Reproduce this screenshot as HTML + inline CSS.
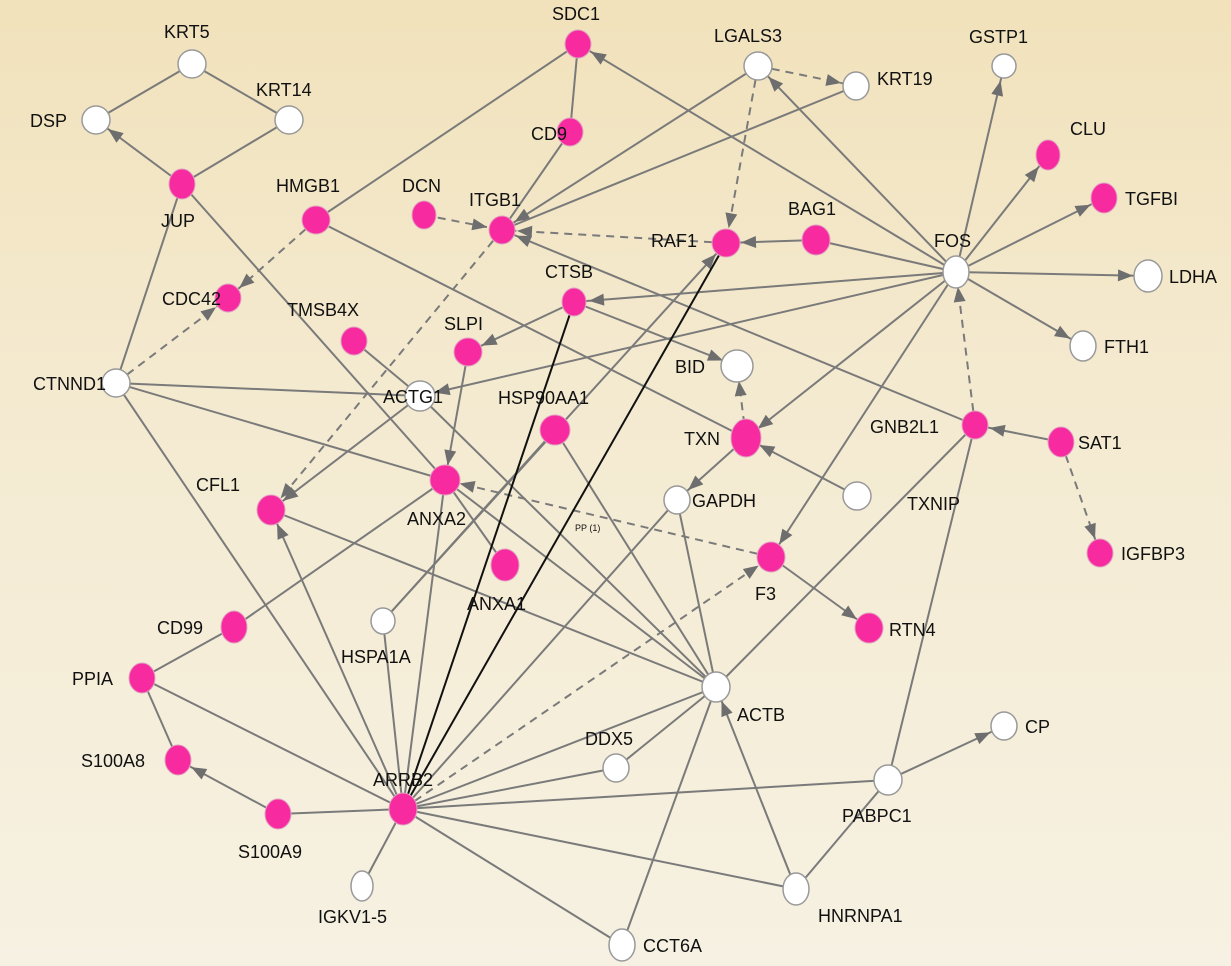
<!DOCTYPE html>
<html><head><meta charset="utf-8"><style>
html,body{margin:0;padding:0}
body{width:1231px;height:966px;overflow:hidden;background:linear-gradient(#f1e2bb,#f4ead0 40%,#f6f1e2)}
svg{display:block}
text{font-family:"Liberation Sans",sans-serif;font-size:18px;fill:#111}
</style></head><body>
<svg width="1231" height="966" viewBox="0 0 1231 966">
<defs>
<marker id="a" markerUnits="userSpaceOnUse" markerWidth="14" markerHeight="12" refX="30" refY="6" orient="auto" overflow="visible"><path d="M0,0 L15,6 L0,12 z" fill="#6e6e6e"/></marker>
</defs>
<g stroke="#7a7a7a" stroke-width="2" fill="none">
<line x1="192" y1="64" x2="96" y2="120"/>
<line x1="192" y1="64" x2="289" y2="120"/>
<line x1="289" y1="120" x2="182" y2="184"/>
<line x1="182" y1="184" x2="96" y2="120" marker-end="url(#a)"/>
<line x1="182" y1="184" x2="116" y2="383"/>
<line x1="182" y1="184" x2="445" y2="480"/>
<line x1="578" y1="44" x2="570" y2="132"/>
<line x1="578" y1="44" x2="316" y2="220"/>
<line x1="570" y1="132" x2="502" y2="230"/>
<line x1="316" y1="220" x2="228" y2="298" stroke-dasharray="8,6" marker-end="url(#a)"/>
<line x1="316" y1="220" x2="746" y2="438"/>
<line x1="758" y1="66" x2="856" y2="86" stroke-dasharray="8,6" marker-end="url(#a)"/>
<line x1="758" y1="66" x2="726" y2="243" stroke-dasharray="8,6" marker-end="url(#a)"/>
<line x1="758" y1="66" x2="502" y2="230" marker-end="url(#a)"/>
<line x1="856" y1="86" x2="502" y2="230"/>
<line x1="956" y1="272" x2="578" y2="44" marker-end="url(#a)"/>
<line x1="956" y1="272" x2="758" y2="66" marker-end="url(#a)"/>
<line x1="956" y1="272" x2="1004" y2="66" marker-end="url(#a)"/>
<line x1="956" y1="272" x2="1048" y2="155" marker-end="url(#a)"/>
<line x1="956" y1="272" x2="1104" y2="198" marker-end="url(#a)"/>
<line x1="956" y1="272" x2="1148" y2="276" marker-end="url(#a)"/>
<line x1="956" y1="272" x2="1083" y2="346" marker-end="url(#a)"/>
<line x1="956" y1="272" x2="816" y2="240"/>
<line x1="816" y1="240" x2="726" y2="243" marker-end="url(#a)"/>
<line x1="956" y1="272" x2="574" y2="302" marker-end="url(#a)"/>
<line x1="956" y1="272" x2="746" y2="438" marker-end="url(#a)"/>
<line x1="956" y1="272" x2="771" y2="557" marker-end="url(#a)"/>
<line x1="975" y1="425" x2="956" y2="272" stroke-dasharray="8,6" marker-end="url(#a)"/>
<line x1="956" y1="272" x2="420" y2="396" marker-end="url(#a)"/>
<line x1="116" y1="383" x2="420" y2="396"/>
<line x1="116" y1="383" x2="228" y2="298" stroke-dasharray="8,6" marker-end="url(#a)"/>
<line x1="116" y1="383" x2="445" y2="480"/>
<line x1="116" y1="383" x2="403" y2="809"/>
<line x1="726" y1="243" x2="502" y2="230" stroke-dasharray="8,6" marker-end="url(#a)"/>
<line x1="424" y1="215" x2="502" y2="230" stroke-dasharray="8,6" marker-end="url(#a)"/>
<line x1="502" y1="230" x2="271" y2="510" stroke-dasharray="8,6" marker-end="url(#a)"/>
<line x1="574" y1="302" x2="468" y2="352" marker-end="url(#a)"/>
<line x1="574" y1="302" x2="737" y2="366" marker-end="url(#a)"/>
<line x1="420" y1="396" x2="271" y2="510" marker-end="url(#a)"/>
<line x1="975" y1="425" x2="502" y2="230" marker-end="url(#a)"/>
<line x1="1061" y1="442" x2="975" y2="425" marker-end="url(#a)"/>
<line x1="1061" y1="442" x2="1100" y2="553" stroke-dasharray="8,6" marker-end="url(#a)"/>
<line x1="746" y1="438" x2="737" y2="366" stroke-dasharray="8,6" marker-end="url(#a)"/>
<line x1="746" y1="438" x2="677" y2="500" marker-end="url(#a)"/>
<line x1="857" y1="496" x2="746" y2="438" marker-end="url(#a)"/>
<line x1="771" y1="557" x2="445" y2="480" stroke-dasharray="8,6" marker-end="url(#a)"/>
<line x1="771" y1="557" x2="869" y2="628" marker-end="url(#a)"/>
<line x1="975" y1="425" x2="716" y2="687"/>
<line x1="975" y1="425" x2="888" y2="780"/>
<line x1="888" y1="780" x2="1004" y2="726" marker-end="url(#a)"/>
<line x1="888" y1="780" x2="403" y2="809"/>
<line x1="888" y1="780" x2="796" y2="889"/>
<line x1="796" y1="889" x2="716" y2="687" marker-end="url(#a)"/>
<line x1="796" y1="889" x2="403" y2="809"/>
<line x1="622" y1="945" x2="403" y2="809"/>
<line x1="622" y1="945" x2="716" y2="687"/>
<line x1="616" y1="768" x2="403" y2="809"/>
<line x1="616" y1="768" x2="716" y2="687"/>
<line x1="716" y1="687" x2="445" y2="480"/>
<line x1="716" y1="687" x2="271" y2="510"/>
<line x1="716" y1="687" x2="555" y2="430"/>
<line x1="716" y1="687" x2="677" y2="500"/>
<line x1="716" y1="687" x2="420" y2="396"/>
<line x1="716" y1="687" x2="403" y2="809"/>
<line x1="403" y1="809" x2="271" y2="510" marker-end="url(#a)"/>
<line x1="403" y1="809" x2="445" y2="480"/>
<line x1="403" y1="809" x2="383" y2="621"/>
<line x1="403" y1="809" x2="142" y2="678"/>
<line x1="403" y1="809" x2="278" y2="814"/>
<line x1="403" y1="809" x2="362" y2="886"/>
<line x1="403" y1="809" x2="771" y2="557" stroke-dasharray="8,6" marker-end="url(#a)"/>
<line x1="403" y1="809" x2="677" y2="500"/>
<line x1="383" y1="621" x2="726" y2="243" marker-end="url(#a)"/>
<line x1="383" y1="621" x2="555" y2="430"/>
<line x1="354" y1="341" x2="420" y2="396"/>
<line x1="468" y1="352" x2="445" y2="480" marker-end="url(#a)"/>
<line x1="445" y1="480" x2="505" y2="565"/>
<line x1="234" y1="627" x2="445" y2="480"/>
<line x1="234" y1="627" x2="142" y2="678"/>
<line x1="142" y1="678" x2="178" y2="760"/>
<line x1="278" y1="814" x2="178" y2="760" marker-end="url(#a)"/>
</g>
<g stroke="#111" stroke-width="2">
<line x1="574" y1="302" x2="403" y2="809"/>
<line x1="726" y1="243" x2="403" y2="809"/>
</g>
<g stroke="#999" stroke-width="1.5" fill="#fff">
<ellipse cx="192" cy="64" rx="14" ry="14"/>
<ellipse cx="289" cy="120" rx="14" ry="14"/>
<ellipse cx="96" cy="120" rx="14" ry="14"/>
<ellipse cx="758" cy="66" rx="14" ry="14"/>
<ellipse cx="856" cy="86" rx="13" ry="14"/>
<ellipse cx="1004" cy="66" rx="12" ry="12"/>
<ellipse cx="956" cy="272" rx="13" ry="16"/>
<ellipse cx="1148" cy="276" rx="14" ry="16"/>
<ellipse cx="1083" cy="346" rx="13" ry="15"/>
<ellipse cx="737" cy="366" rx="16" ry="16"/>
<ellipse cx="116" cy="383" rx="14" ry="14"/>
<ellipse cx="420" cy="396" rx="15" ry="15"/>
<ellipse cx="857" cy="496" rx="14" ry="14"/>
<ellipse cx="677" cy="500" rx="13" ry="14"/>
<ellipse cx="383" cy="621" rx="12" ry="13"/>
<ellipse cx="716" cy="687" rx="14" ry="15"/>
<ellipse cx="1004" cy="726" rx="13" ry="14"/>
<ellipse cx="616" cy="768" rx="13" ry="14"/>
<ellipse cx="888" cy="780" rx="14" ry="15"/>
<ellipse cx="362" cy="886" rx="11" ry="15"/>
<ellipse cx="796" cy="889" rx="13" ry="16"/>
<ellipse cx="622" cy="945" rx="13" ry="16"/>
</g>
<g fill="#f82a9f" stroke="#e0a0c0" stroke-width="1">
<ellipse cx="182" cy="184" rx="13" ry="15"/>
<ellipse cx="316" cy="220" rx="14" ry="14"/>
<ellipse cx="578" cy="44" rx="13" ry="14"/>
<ellipse cx="570" cy="132" rx="13" ry="14"/>
<ellipse cx="1048" cy="155" rx="12" ry="15"/>
<ellipse cx="1104" cy="198" rx="13" ry="15"/>
<ellipse cx="424" cy="215" rx="12" ry="14"/>
<ellipse cx="502" cy="230" rx="13" ry="14"/>
<ellipse cx="726" cy="243" rx="14" ry="14"/>
<ellipse cx="816" cy="240" rx="14" ry="15"/>
<ellipse cx="228" cy="298" rx="13" ry="14"/>
<ellipse cx="354" cy="341" rx="13" ry="14"/>
<ellipse cx="574" cy="302" rx="12" ry="14"/>
<ellipse cx="468" cy="352" rx="14" ry="14"/>
<ellipse cx="555" cy="430" rx="15" ry="15"/>
<ellipse cx="746" cy="438" rx="15" ry="19"/>
<ellipse cx="975" cy="425" rx="13" ry="14"/>
<ellipse cx="1061" cy="442" rx="13" ry="15"/>
<ellipse cx="445" cy="480" rx="15" ry="15"/>
<ellipse cx="271" cy="510" rx="14" ry="15"/>
<ellipse cx="505" cy="565" rx="14" ry="16"/>
<ellipse cx="771" cy="557" rx="14" ry="15"/>
<ellipse cx="1100" cy="553" rx="13" ry="14"/>
<ellipse cx="869" cy="628" rx="14" ry="15"/>
<ellipse cx="234" cy="627" rx="13" ry="16"/>
<ellipse cx="142" cy="678" rx="13" ry="15"/>
<ellipse cx="178" cy="760" rx="13" ry="15"/>
<ellipse cx="278" cy="814" rx="13" ry="15"/>
<ellipse cx="403" cy="809" rx="14" ry="16"/>
</g>
<g>
<text x="164" y="38">KRT5</text>
<text x="256" y="96">KRT14</text>
<text x="30" y="127">DSP</text>
<text x="161" y="227">JUP</text>
<text x="276" y="192">HMGB1</text>
<text x="552" y="20">SDC1</text>
<text x="531" y="140">CD9</text>
<text x="714" y="42">LGALS3</text>
<text x="877" y="85">KRT19</text>
<text x="969" y="43">GSTP1</text>
<text x="1070" y="135">CLU</text>
<text x="1125" y="205">TGFBI</text>
<text x="402" y="192">DCN</text>
<text x="469" y="206">ITGB1</text>
<text x="651" y="247">RAF1</text>
<text x="788" y="215">BAG1</text>
<text x="934" y="247">FOS</text>
<text x="1169" y="283">LDHA</text>
<text x="1104" y="353">FTH1</text>
<text x="162" y="305">CDC42</text>
<text x="287" y="316">TMSB4X</text>
<text x="545" y="278">CTSB</text>
<text x="444" y="330">SLPI</text>
<text x="675" y="373">BID</text>
<text x="33" y="390">CTNND1</text>
<text x="383" y="403">ACTG1</text>
<text x="498" y="404">HSP90AA1</text>
<text x="684" y="445">TXN</text>
<text x="870" y="433">GNB2L1</text>
<text x="1078" y="449">SAT1</text>
<text x="692" y="507">GAPDH</text>
<text x="407" y="525">ANXA2</text>
<text x="196" y="491">CFL1</text>
<text x="467" y="610">ANXA1</text>
<text x="755" y="600">F3</text>
<text x="907" y="510">TXNIP</text>
<text x="1121" y="560">IGFBP3</text>
<text x="889" y="636">RTN4</text>
<text x="157" y="634">CD99</text>
<text x="341" y="663">HSPA1A</text>
<text x="72" y="685">PPIA</text>
<text x="737" y="721">ACTB</text>
<text x="1025" y="733">CP</text>
<text x="585" y="745">DDX5</text>
<text x="842" y="822">PABPC1</text>
<text x="81" y="767">S100A8</text>
<text x="238" y="858">S100A9</text>
<text x="373" y="786">ARRB2</text>
<text x="318" y="923">IGKV1-5</text>
<text x="818" y="922">HNRNPA1</text>
<text x="643" y="952">CCT6A</text>
<text x="575" y="531" style="font-size:9px">PP (1)</text>
</g>
</svg>
</body></html>
